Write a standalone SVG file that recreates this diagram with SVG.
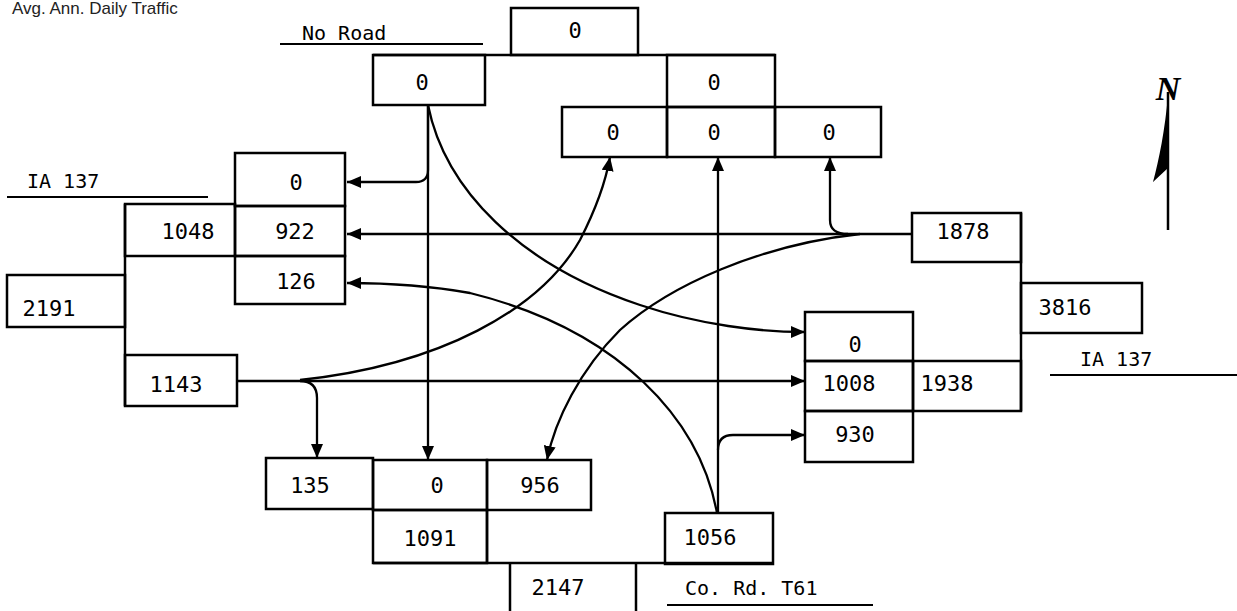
<svg xmlns="http://www.w3.org/2000/svg" width="1237" height="611" viewBox="0 0 1237 611">
<defs>
<marker id="ah" viewBox="0 0 14 12" refX="14" refY="6" markerWidth="14" markerHeight="12" markerUnits="userSpaceOnUse" orient="auto">
<path d="M0,0 L14,6 L0,12 Z" fill="#000"/>
</marker>
</defs>
<style>
.bx{fill:none;stroke:#000;stroke-width:2.5}
.ln{fill:none;stroke:#000;stroke-width:2.5}
.cn{fill:none;stroke:#000;stroke-width:2.3;marker-end:url(#ah)}
.t{font-family:"DejaVu Sans Mono","Liberation Mono",monospace;font-size:22px;fill:#000;text-anchor:middle}
.lb{font-family:"DejaVu Sans Mono","Liberation Mono",monospace;font-size:20px;fill:#000}
.ul{stroke:#000;stroke-width:2}
</style>
<rect width="1237" height="611" fill="#fff"/>
<text x="12" y="14" style="font-family:'Liberation Sans',Arial,sans-serif;font-size:17px;fill:#222">Avg. Ann. Daily Traffic</text>

<g id="labels">
<text class="lb" x="302" y="40">No Road</text>
<line class="ul" x1="280" y1="44" x2="483" y2="44"/>
<text class="lb" x="27" y="188">IA 137</text>
<line class="ul" x1="7" y1="197" x2="208" y2="197"/>
<text class="lb" x="1080" y="366">IA 137</text>
<line class="ul" x1="1050" y1="375" x2="1237" y2="375"/>
<text class="lb" x="685" y="595">Co. Rd. T61</text>
<line class="ul" x1="667" y1="605" x2="873" y2="605"/>
</g>

<g id="north">
<line class="ln" x1="1168" y1="92" x2="1168" y2="230"/>
<path d="M1168,95 C1165,130 1159,160 1153,182 L1168,168 Z" fill="#000"/>
<text x="1168" y="100" style="font-family:'Liberation Serif',serif;font-style:italic;font-weight:bold;font-size:34px;text-anchor:middle">N</text>
</g>

<g id="north-approach">
<line class="ln" x1="373" y1="55" x2="775" y2="55"/>
<g id="n-total"><rect class="bx" x="511" y="8" width="127" height="47"/><text class="t" x="575" y="38">0</text></g>
<g id="n-out"><rect class="bx" x="373" y="55" width="112" height="50"/><text class="t" x="422" y="90">0</text></g>
<g id="n-in"><rect class="bx" x="667" y="55" width="108" height="52"/><text class="t" x="714" y="90">0</text></g>
<g id="n-left"><rect class="bx" x="562" y="107" width="105" height="50"/><text class="t" x="613" y="140">0</text></g>
<g id="n-thru"><rect class="bx" x="667" y="107" width="108" height="50"/><text class="t" x="714" y="140">0</text></g>
<g id="n-right"><rect class="bx" x="775" y="107" width="106" height="50"/><text class="t" x="829" y="140">0</text></g>
</g>

<g id="west-approach">
<line class="ln" x1="125" y1="204" x2="125" y2="406"/>
<g id="w-total"><rect class="bx" x="7" y="275" width="118" height="52"/><text class="t" x="49" y="316">2191</text></g>
<g id="w-in"><rect class="bx" x="125" y="204" width="110" height="52"/><text class="t" x="188" y="239">1048</text></g>
<g id="w-from-n"><rect class="bx" x="235" y="153" width="110" height="53"/><text class="t" x="296" y="190">0</text></g>
<g id="w-from-e"><rect class="bx" x="235" y="206" width="110" height="50"/><text class="t" x="295" y="239">922</text></g>
<g id="w-from-s"><rect class="bx" x="235" y="256" width="110" height="48"/><text class="t" x="296" y="289">126</text></g>
<g id="w-out"><rect class="bx" x="125" y="355" width="112" height="51"/><text class="t" x="176" y="392">1143</text></g>
</g>

<g id="east-approach">
<line class="ln" x1="1021" y1="213" x2="1021" y2="411"/>
<g id="e-out"><rect class="bx" x="912" y="213" width="109" height="49"/><text class="t" x="963" y="239">1878</text></g>
<g id="e-total"><rect class="bx" x="1021" y="283" width="121" height="50"/><text class="t" x="1065" y="315">3816</text></g>
<g id="e-from-n"><rect class="bx" x="805" y="312" width="108" height="49"/><text class="t" x="855" y="352">0</text></g>
<g id="e-from-w"><rect class="bx" x="805" y="361" width="108" height="50"/><text class="t" x="849" y="391">1008</text></g>
<g id="e-from-s"><rect class="bx" x="805" y="411" width="108" height="51"/><text class="t" x="855" y="442">930</text></g>
<g id="e-in"><rect class="bx" x="913" y="361" width="108" height="50"/><text class="t" x="947" y="391">1938</text></g>
</g>

<g id="south-approach">
<line class="ln" x1="487" y1="510" x2="487" y2="563"/>
<line class="ln" x1="373" y1="563" x2="773" y2="563"/>
<line class="ln" x1="510" y1="563" x2="510" y2="611"/>
<line class="ln" x1="636" y1="563" x2="636" y2="611"/>
<g id="s-from-w"><rect class="bx" x="266" y="458" width="107" height="51"/><text class="t" x="310" y="493">135</text></g>
<g id="s-from-n"><rect class="bx" x="373" y="460" width="114" height="50"/><text class="t" x="437" y="493">0</text></g>
<g id="s-from-e"><rect class="bx" x="487" y="460" width="104" height="50"/><text class="t" x="540" y="493">956</text></g>
<g id="s-in"><rect class="bx" x="373" y="510" width="114" height="53"/><text class="t" x="430" y="546">1091</text></g>
<g id="s-out"><rect class="bx" x="665" y="513" width="108" height="51"/><text class="t" x="710" y="545">1056</text></g>
<g id="s-total"><text class="t" x="558" y="595">2147</text></g>
</g>

<g id="connectors">
<path class="cn" d="M428,105 V170 Q428,182 416,182 H347"/>
<path class="cn" d="M428,105 V460"/>
<path class="cn" d="M428,105 C445,190 520,265 640,305 C700,325 760,332 805,332"/>
<path class="cn" d="M912,234 H347"/>
<path class="cn" d="M848,234 Q830,234 830,220 V157"/>
<path class="cn" d="M860,234 C760,245 670,285 620,330 C580,370 555,420 547,460"/>
<path class="cn" d="M237,381 H805"/>
<path class="cn" d="M300,380 C440,365 540,310 580,240 C598,205 606,180 610,157"/>
<path class="cn" d="M300,381 Q317,381 317,398 V458"/>
<path class="cn" d="M718,513 V157"/>
<path class="cn" d="M718,450 Q718,435 733,435 H805"/>
<path class="cn" d="M717,513 C700,420 620,330 470,293 C420,284 380,283 347,283"/>
</g>
</svg>
